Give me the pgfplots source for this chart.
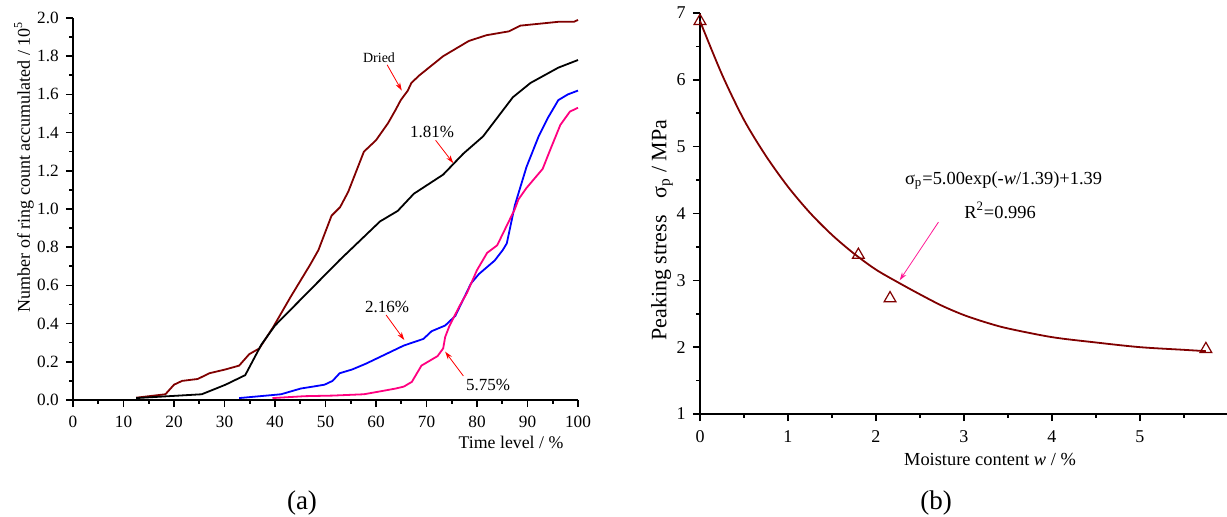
\documentclass[border=0pt]{standalone}
\usepackage{fontspec}
\setmainfont{Liberation Serif}
\usepackage{pgfplots}
\pgfplotsset{compat=1.18}
\usetikzlibrary{arrows.meta}
\definecolor{dred}{HTML}{800000}
\definecolor{mypink}{HTML}{FF0080}
\definecolor{arrpink}{HTML}{FF1493}
\definecolor{myblue}{HTML}{0000FF}

\pgfplotstableread{
x y
12.5 0.012
18.3 0.03
20.0 0.08
21.6 0.10
24.7 0.11
27.0 0.14
30.2 0.16
32.9 0.18
34.9 0.24
36.9 0.27
39.6 0.38
43.1 0.54
47.0 0.71
48.6 0.785
51.2 0.965
52.9 1.01
54.5 1.09
57.6 1.30
60.0 1.36
62.4 1.45
63.9 1.52
64.9 1.57
66.3 1.62
67.0 1.66
68.6 1.70
73.3 1.80
78.4 1.88
81.9 1.91
86.3 1.93
88.6 1.96
96.1 1.98
99.2 1.98
100 1.99
}\dried

\pgfplotstableread{
x y
12.5 0.01
25.5 0.03
30.2 0.08
34.1 0.13
37.3 0.29
40.0 0.39
52.9 0.735
60.8 0.935
64.3 0.99
67.5 1.08
73.3 1.18
77.3 1.29
81.2 1.38
87.1 1.585
90.6 1.66
96.1 1.74
100 1.78
}\blackcurve

\pgfplotstableread{
x y
32.9 0.01
41.2 0.03
45.1 0.06
47.5 0.07
49.8 0.08
51.4 0.10
52.8 0.14
55.3 0.16
58.0 0.19
65.5 0.285
69.4 0.32
71.0 0.36
73.7 0.39
75.7 0.44
78.8 0.61
80.4 0.66
83.5 0.73
85.1 0.785
85.9 0.82
87.5 1.02
89.8 1.22
92.2 1.38
94.1 1.48
96.1 1.57
98.0 1.60
100 1.62
}\bluecurve

\pgfplotstableread{
x y
39.5 0.01
45.9 0.02
51.4 0.023
57.6 0.03
60.8 0.045
63.9 0.06
65.5 0.07
67.1 0.095
69.0 0.18
72.2 0.23
73.3 0.27
73.7 0.33
74.5 0.385
76.5 0.49
78.0 0.56
80.0 0.68
82.0 0.77
84.0 0.81
87.5 1.0
88.2 1.05
89.8 1.11
93.0 1.21
94.5 1.31
96.5 1.44
98.4 1.51
100 1.53
}\pinkcurve

\pgfplotstableread{
w s
0 6.88
1.80 3.38
2.16 2.73
5.75 1.97
}\points

\pgfplotstableread{
w s
0 6.88
0.25 6.08
0.5 5.40
0.75 4.86
1.0 4.40
1.25 4.01
1.5 3.68
1.75 3.40
2.0 3.16
2.25 2.97
2.5 2.79
2.75 2.62
3.0 2.48
3.25 2.37
3.5 2.28
4.0 2.15
4.5 2.07
5.0 2.00
5.5 1.96
5.75 1.94
}\fitcurve

\begin{document}
\begin{tikzpicture}[font=\fontsize{8.5pt}{10pt}\selectfont]
\path[use as bounding box] (0,0) rectangle (613.5pt,258.5pt);

\pgfplotsset{
  myaxis/.style={
    scale only axis,
    anchor=south west,
    axis x line*=bottom,
    axis y line*=left,
    tick align=outside,
    axis line style={line width=0.8pt},
    major tick style={line width=0.8pt, black},
    minor tick style={line width=0.8pt, black},
    major tick length=3.6pt,
    minor tick length=2pt,
    tick label style={font=\fontsize{8.6pt}{10pt}\selectfont},
    /pgf/number format/assume math mode=true,
    clip=false,
  }
}

% ---------- (a) ----------
\begin{axis}[myaxis,
  at={(36.5pt,58.5pt)},
  width=252.5pt, height=191pt,
  xmin=0, xmax=100, ymin=0, ymax=2.0,
  xtick={0,10,...,100},
  minor x tick num=1,
  ytick={0,0.2,...,2.0},
  minor y tick num=1,
  yticklabel style={/pgf/number format/fixed, /pgf/number format/fixed zerofill, /pgf/number format/precision=1},
  xticklabel style={yshift=-1pt},
]
\addplot[dred, line width=0.9pt] table {\dried};
\addplot[black, line width=0.9pt] table {\blackcurve};
\addplot[myblue, line width=0.9pt] table {\bluecurve};
\addplot[mypink, line width=0.9pt] table {\pinkcurve};

\node[font=\fontsize{7pt}{8pt}\selectfont] at (axis cs:60.6,1.79) {Dried};
\draw[red, -{Stealth[length=4pt,width=2.5pt]}, line width=0.4pt] (axis cs:62.2,1.755) -- (axis cs:65.1,1.62);
\node at (axis cs:71.1,1.405) {1.81\%};
\draw[red, -{Stealth[length=4pt,width=2.5pt]}, line width=0.4pt] (axis cs:71.8,1.36) -- (axis cs:75.3,1.24);
\node at (axis cs:62.2,0.485) {2.16\%};
\draw[red, -{Stealth[length=4pt,width=2.5pt]}, line width=0.4pt] (axis cs:62.0,0.445) -- (axis cs:65.6,0.314);
\node at (axis cs:82.2,0.08) {5.75\%};
\draw[red, -{Stealth[length=4pt,width=2.5pt]}, line width=0.4pt] (axis cs:77.3,0.126) -- (axis cs:73.7,0.253);
\end{axis}

% ---------- (b) ----------
\begin{axis}[myaxis,
  at={(350pt,51.5pt)},
  width=263.5pt, height=200.5pt,
  xmin=0, xmax=5.99, ymin=1, ymax=7,
  xtick={0,1,2,3,4,5},
  minor xtick={0.5,1.5,2.5,3.5,4.5,5.5},
  ytick={1,2,3,4,5,6,7},
  minor ytick={1.5,2.5,3.5,4.5,5.5,6.5},
  xticklabel style={yshift=-1pt},
  tick label style={font=\fontsize{9pt}{10pt}\selectfont},
]
\addplot[dred, line width=0.9pt, smooth] table {\fitcurve};
\addplot[dred, only marks, mark=triangle, mark size=3.4pt, mark options={line width=0.6pt, fill=none}] table {\points};
\node[font=\fontsize{9.2pt}{11pt}\selectfont] at (axis cs:3.45,4.50) {σ\textsubscript{p}=5.00exp(-\textit{w}/1.39)+1.39};
\node[font=\fontsize{9.2pt}{11pt}\selectfont] at (axis cs:3.41,4.05) {R\textsuperscript{2}=0.996};
\draw[arrpink, -{Stealth[length=4pt,width=2.5pt]}, line width=0.4pt] (axis cs:2.71,3.87) -- (axis cs:2.27,3.0);
\end{axis}

% ---------- labels ----------
\node[rotate=90, font=\fontsize{9pt}{10pt}\selectfont] at (12pt,175pt) {Number of ring count accumulated / 10\textsuperscript{5}};
\node[font=\fontsize{8.9pt}{10pt}\selectfont] at (255.5pt,37.5pt) {Time level / \%};
\node[rotate=90, font=\fontsize{11pt}{12pt}\selectfont] at (331pt,143.5pt) {Peaking stress \ \ σ\textsubscript{p} / MPa};
\node[font=\fontsize{9.2pt}{10pt}\selectfont] at (495pt,28.5pt) {Moisture content \textit{w} / \%};
\node[font=\fontsize{13.5pt}{15pt}\selectfont] at (151pt,7pt) {(a)};
\node[font=\fontsize{13.5pt}{15pt}\selectfont] at (468pt,7pt) {(b)};
\end{tikzpicture}
\end{document}
